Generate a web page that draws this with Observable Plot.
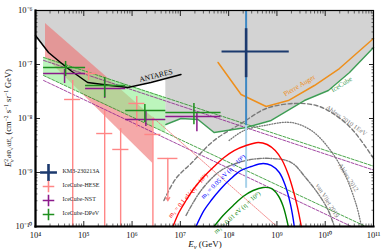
<!DOCTYPE html>
<html><head><meta charset="utf-8">
<script src="https://cdn.jsdelivr.net/npm/d3@7"></script>
<script src="https://cdn.jsdelivr.net/npm/@observablehq/plot@0.6"></script>
<style>body{margin:0;background:#fff} svg{display:block}</style>
</head><body><div id="chart"></div>
<script>
// ---------- data (E in GeV, F = E^2 dPhi/dE in GeV cm^-2 s^-1 sr^-1) ----------
const antaresE = [1e4, 1.86e4, 3.3e4, 5.33e4, 1.2e5, 3.61e5, 8.15e5, 2.45e6, 1.03e7];
const antaresF = [3.44e-7, 1.67e-7, 1.09e-7, 7.74e-8, 4.64e-8, 4.08e-8, 3.75e-8, 4.64e-8, 6.53e-8];
const grayStepE = [5.0e6];
const grayStepF = [5.5e-8];

const icecubeE = [5.0e6, 1.03e7, 2.32e7, 4.99e7, 2.3e8, 7.6e8, 3.69e9, 1.16e10, 3.18e10, 1e11];
const icecubeF = [7.74e-9, 1.0e-8, 9.6e-9, 5.5e-9, 6.8e-9, 9.2e-9, 2.15e-8, 3.3e-8, 7.1e-8, 2.06e-7];

const augerE = [6.04e7, 1.81e8, 6.0e8, 1.72e9, 5.96e9, 1.97e10, 1e11];
const augerF = [1.09e-7, 2.78e-8, 1.67e-8, 2.15e-8, 4.08e-8, 8.43e-8, 3.03e-7];

const heseBandE = [1.61e4, 2.7e6];
const heseBandLo = [1.35e-7, 1.47e-9];
const heseBandHi = [5.74e-7, 1.045e-8];
const heseExtE = [2.7e6, 1e9];
const heseExtF = [1.045e-8, 1e-10];

const dpevBandE = [1.47e4, 5e6];
const dpevBandLo = [6.25e-8, 5.43e-9];
const dpevBandHi = [1.35e-7, 2.43e-8];
const dpevUpE = [1.47e4, 1e11];
const dpevUpF = [1.35e-7, 1.31e-9];
const dpevLowE = [1.47e4, 6.9e10];
const dpevLowF = [6.25e-8, 1e-10];
const nstUpE = [1.47e4, 1e11];
const nstUpF = [1.19e-7, 1.11e-9];
const nstLowE = [1.47e4, 3.5e10];
const nstLowF = [5.06e-8, 1e-10];

const ahlers10E = [4.56e6, 8.09e6, 1.66e7, 4.99e7, 1.81e8, 6.0e8, 2.29e9, 6.55e9, 1.34e10, 3.49e10, 1e11];
const ahlers10F = [3.03e-10, 7.74e-10, 1.47e-9, 3.92e-9, 8.07e-9, 1.53e-8, 1.9e-8, 1.74e-8, 1.29e-8, 6.53e-9, 1.82e-9];
const ahlers12E = [1.02e8, 2.09e8, 5.44e8, 1.98e9, 5.15e9, 1.16e10, 2.5e10, 4.44e10, 5.64e10];
const ahlers12F = [3.92e-9, 6.0e-9, 7.41e-9, 8.43e-9, 6.0e-9, 2.9e-9, 9.57e-10, 2.45e-10, 1e-10];
const vliet19E = [1.31e7, 2.68e7, 6.97e7, 2.3e8, 7.62e8, 1.98e9, 4.06e9, 7.57e9, 1.16e10, 1.55e10];
const vliet19F = [1.6e-10, 4.64e-10, 1.09e-9, 1.67e-9, 1.82e-9, 1.53e-9, 7.74e-10, 3.75e-10, 1.98e-10, 1e-10];

const m01E = [7.02e6, 9.35e6, 1.31e7, 1.91e7, 3.09e7, 4.99e7, 8.04e7, 1.3e8, 2.3e8, 4.08e8, 6.28e8, 9.22e8, 1.29e9, 1.72e9, 2.18e9, 2.64e9, 3.2e9];
const m01F = [1e-10, 1.82e-10, 3.03e-10, 5.06e-10, 8.43e-10, 1.29e-9, 1.9e-9, 2.55e-9, 3.16e-9, 3.6e-9, 3.3e-9, 2.55e-9, 1.67e-9, 9.18e-10, 4.64e-10, 2.35e-10, 1e-10];
const m005E = [2.11e7, 3.09e7, 4.32e7, 6.97e7, 1.12e8, 1.81e8, 2.92e8, 5.19e8, 7.62e8, 1.12e9, 1.49e9, 1.89e9, 2.29e9];
const m005F = [1e-10, 1.98e-10, 3.03e-10, 5.06e-10, 7.74e-10, 1.09e-9, 1.29e-9, 1.47e-9, 1.35e-9, 1e-9, 5.74e-10, 2.67e-10, 1e-10];
const m001E = [4.99e7, 7.67e7, 1.24e8, 1.99e8, 3.22e8, 5.19e8, 7.62e8, 1.06e9, 1.35e9, 1.72e9];
const m001F = [1e-10, 1.6e-10, 2.45e-10, 3.6e-10, 4.64e-10, 5.27e-10, 5.06e-10, 3.75e-10, 2.35e-10, 1e-10];

// IceCube data points
const binLoE = [1.47e4, 1.09e5, 7.4e5, 5.0e6];
const binHiE = [1.09e5, 7.4e5, 5.0e6, 6.97e7];
const dpevE = [4.2e4, 2.71e5, 1.84e6, 1.91e7];
const dpevF = [8.8e-8, 4.1e-8, 1.41e-8, 1.29e-8];
const dpevLo = [6.0e-8, 2.45e-8, 8.4e-9, 7.7e-9];
const dpevHi = [1.14e-7, 5.7e-8, 1.82e-8, 1.9e-8];
const nstE = [4.0e4, 2.71e5, 1.93e6, 2.2e7];
const nstF = [6.8e-8, 3.6e-8, 9.6e-9, 1.09e-8];
const nstLo = [4.45e-8, 2.35e-8, 7.1e-9, 5.7e-9];
const nstHi = [8.1e-8, 5.3e-8, 1.41e-8, 1.24e-8];

const heseE = [5.9e4, 1.26e5, 2.71e5, 5.8e5, 1.25e6, 2.7e6];
const heseLoE = [4.0e4, 8.6e4, 1.85e5, 3.98e5, 8.6e5, 1.84e6];
const heseHiE = [8.6e4, 1.85e5, 3.98e5, 8.6e5, 1.84e6, 3.95e6];
const heseF = [2.25e-8, 6.8e-8, 5.27e-9, 2.67e-9, 1.9e-8, 5.06e-9];
const heseLo = [1e-10, 5.06e-8, 1e-10, 1e-10, 6.8e-9, 1e-10];
const heseHi = [5.06e-8, 8.4e-8, 1.41e-8, 6.5e-9, 2.55e-8, 1e-8];
const heseUlE = [5.5e6], heseUlLoE = [3.42e6], heseUlHiE = [8.9e6], heseUlF = [1.82e-9], heseUlTip = [3.0e-10];

// KM3-230213A
const km3E = [2.3e8], km3LoE = [7.3e7], km3HiE = [1.8e9], km3F = [1.74e-7];
const km3S1 = [5.7e-8, 4.6e-7], km3S2 = [7.4e-9, 1e-6], km3S3 = [5.1e-10, 7.4e-9];

const legendNames = ["KM3-230213A", "IceCube-HESE", "IceCube-NST", "IceCube-DPeV"];

// axis ticks
const xMajor = [1e4, 1e5, 1e6, 1e7, 1e8, 1e9, 1e10, 1e11];
const yMajor = [1e-10, 1e-9, 1e-8, 1e-7, 1e-6];
const minorMult = [2, 3, 4, 5, 6, 7, 8, 9];

// ---------- helpers ----------
const pts = (xs, ys) => xs.map((x, i) => ({x, y: ys[i]}));
const band = (xs, lo, hi) => xs.map((x, i) => ({x, lo: lo[i], hi: hi[i]}));
const sup = {"0":"⁰","1":"¹","2":"²","3":"³","4":"⁴","5":"⁵","6":"⁶","7":"⁷","8":"⁸","9":"⁹","-":"⁻"};
const fmt = d => "10" + String(Math.round(Math.log10(d))).split("").map(c => sup[c]).join("");
const xMinor = xMajor.slice(0, -1).flatMap(v => minorMult.map(m => v * m));
const yMinor = yMajor.slice(0, -1).flatMap(v => minorMult.map(m => v * m));

const grayEdge = [
  ...pts(antaresE, antaresF).filter(d => d.x < grayStepE[0]),
  ...pts(grayStepE, grayStepF),
  ...pts(icecubeE, icecubeF)
];

const errPts = (E, lo, hi, F, Flo, Fhi) => E.map((e, i) => ({x: e, x1: lo[i], x2: hi[i], y: F[i], y1: Flo[i], y2: Fhi[i]}));
const dpev = errPts(dpevE, binLoE, binHiE, dpevF, dpevLo, dpevHi);
const nst = errPts(nstE, binLoE, binHiE, nstF, nstLo, nstHi);
const hese = errPts(heseE, heseLoE, heseHiE, heseF, heseLo, heseHi);
const heseUL = heseUlE.map((e, i) => ({x: e, x1: heseUlLoE[i], x2: heseUlHiE[i], y: heseUlF[i], tip: heseUlTip[i]}));
const km3 = km3E.map((e, i) => ({x: e, x1: km3LoE[i], x2: km3HiE[i], y: km3F[i]}));

const C = {
  gray: "#d3d3d3", hese: "#ff8686", heseBand: "#ef7070", dpev: "#1f8f1f", dpevBand: "#90ee90",
  nst: "#8b1a8b", ice: "#3f9c55", auger: "#ee8f1c", km3: "#1c3a6e", km3b: "#3d88c4", km3c: "#a8d2ea",
  curve: "#7a7a7a"
};

const errMarks = (data, color, w) => [
  Plot.ruleY(data, {y: "y", x1: "x1", x2: "x2", stroke: color, strokeWidth: w}),
  Plot.ruleX(data, {x: "x", y1: "y1", y2: "y2", stroke: color, strokeWidth: w})
];

const annos = [
  {x: 3.11e6, y: 6.25e-8, t: "ANTARES", r: -14, c: "#000", s: 7.5},
  {x: 2.9e9, y: 4.08e-8, t: "Pierre Auger", r: -31, c: C.auger, s: 7},
  {x: 2.17e10, y: 4.27e-8, t: "IceCube", r: -32, c: C.ice, s: 7},
  {x: 2.76e10, y: 9.19e-9, t: "Ahlers 2010 1EeV", r: 35, c: C.curve, s: 6.5},
  {x: 3.02e10, y: 8.07e-10, t: "Ahlers 2012", r: 57, c: C.curve, s: 6.5},
  {x: 1.11e10, y: 3.03e-10, t: "van Vliet 2019", r: 58, c: C.curve, s: 6.5},
  {x: 1.44e7, y: 3.75e-10, t: "m₃ = 0.1 eV (η = 10⁵)", r: -49, c: "#ff0000", s: 6.5},
  {x: 7.67e7, y: 8.43e-10, t: "m₃ = 0.05 eV (η = 10⁶)", r: -45, c: "#0000ff", s: 6.5},
  {x: 1.5e8, y: 1.82e-10, t: "m₃ = 0.01 eV (η = 10⁶)", r: -42, c: "#008000", s: 6.5}
];

const legendColors = [C.km3, C.hese, C.nst, C.dpev];
const legendMarks = legendNames.flatMap((name, i) => [
  Plot.dot([name], {frameAnchor: "bottom-left", dx: 13, dy: -54 + 14 * i, symbol: "plus",
    r: i === 0 ? 5.5 : 3.8, stroke: legendColors[i], strokeWidth: i === 0 ? 2.6 : 1.6}),
  Plot.text([name], {frameAnchor: "bottom-left", dx: 27, dy: -54 + 14 * i, text: d => d,
    textAnchor: "start", fontSize: 6, fill: "#222"})
]);

const tickAxes = [
  ...["bottom", "top"].flatMap(a => [
    Plot.axisX(xMajor, {anchor: a, tickSize: -5, tickFormat: () => "", label: null, strokeWidth: 0.9}),
    Plot.axisX(xMinor, {anchor: a, tickSize: -2.5, tickFormat: () => "", label: null, strokeWidth: 0.6})
  ]),
  ...["left", "right"].flatMap(a => [
    Plot.axisY(yMajor, {anchor: a, tickSize: -5, tickFormat: () => "", label: null, strokeWidth: 0.9}),
    Plot.axisY(yMinor, {anchor: a, tickSize: -2.5, tickFormat: () => "", label: null, strokeWidth: 0.6})
  ])
];

const chart = Plot.plot({
  width: 389, height: 252,
  marginLeft: 35, marginRight: 16, marginTop: 10, marginBottom: 26,
  style: {fontFamily: "'Liberation Serif', serif", background: "#fff", color: "#111"},
  x: {type: "log", domain: [1e4, 1e11]},
  y: {type: "log", domain: [1e-10, 1e-6]},
  marks: [
    Plot.areaY(grayEdge, {x: "x", y1: () => 1e-6, y2: "y", fill: C.gray}),
    Plot.areaY(band(heseBandE, heseBandLo, heseBandHi), {x: "x", y1: "lo", y2: "hi", fill: C.heseBand, fillOpacity: 0.6}),
    Plot.areaY(band(dpevBandE, dpevBandLo, dpevBandHi), {x: "x", y1: "lo", y2: "hi", fill: C.dpevBand, fillOpacity: 0.6}),
    Plot.line(pts(dpevUpE, dpevUpF), {x: "x", y: "y", stroke: C.dpev, strokeWidth: 0.8, strokeDasharray: "3,1.5"}),
    Plot.line(pts(dpevLowE, dpevLowF), {x: "x", y: "y", stroke: C.dpev, strokeWidth: 0.8, strokeDasharray: "3,1.5"}),
    Plot.line(pts(nstUpE, nstUpF), {x: "x", y: "y", stroke: C.nst, strokeWidth: 0.8, strokeDasharray: "3,1.5"}),
    Plot.line(pts(nstLowE, nstLowF), {x: "x", y: "y", stroke: C.nst, strokeWidth: 0.8, strokeDasharray: "3,1.5"}),
    Plot.line(pts(heseExtE, heseExtF), {x: "x", y: "y", stroke: "#f07070", strokeWidth: 0.8, strokeDasharray: "1.5,1.2"}),
    Plot.line(pts(ahlers10E, ahlers10F), {x: "x", y: "y", stroke: C.curve, strokeWidth: 1.4, strokeDasharray: "4,2.5", curve: "catmull-rom"}),
    Plot.line(pts(ahlers12E, ahlers12F), {x: "x", y: "y", stroke: C.curve, strokeWidth: 1.3, strokeDasharray: "1,1.6", curve: "catmull-rom"}),
    Plot.line(pts(vliet19E, vliet19F), {x: "x", y: "y", stroke: C.curve, strokeWidth: 1.4, strokeDasharray: "4,1.5,1,1.5", curve: "catmull-rom"}),
    Plot.line(pts(antaresE, antaresF), {x: "x", y: "y", stroke: "#000", strokeWidth: 1.5}),
    Plot.line(pts(icecubeE, icecubeF), {x: "x", y: "y", stroke: C.ice, strokeWidth: 1.5}),
    Plot.line(pts(augerE, augerF), {x: "x", y: "y", stroke: C.auger, strokeWidth: 1.5}),
    Plot.ruleX(km3, {x: "x", y1: km3S3[0], y2: km3S3[1], stroke: C.km3c, strokeWidth: 2}),
    Plot.ruleX(km3, {x: "x", y1: km3S2[0], y2: km3S2[1], stroke: C.km3b, strokeWidth: 2}),
    Plot.line(pts(m01E, m01F), {x: "x", y: "y", stroke: "#ff0000", strokeWidth: 1.4, curve: "catmull-rom"}),
    Plot.line(pts(m005E, m005F), {x: "x", y: "y", stroke: "#0000ff", strokeWidth: 1.4, curve: "catmull-rom"}),
    Plot.line(pts(m001E, m001F), {x: "x", y: "y", stroke: "#008000", strokeWidth: 1.4, curve: "catmull-rom"}),
    ...errMarks(hese, C.hese, 1.4),
    Plot.ruleY(heseUL, {y: "y", x1: "x1", x2: "x2", stroke: C.hese, strokeWidth: 1.4}),
    Plot.arrow(heseUL, {x1: "x", x2: "x", y1: "y", y2: "tip", stroke: C.hese, strokeWidth: 1.4, headLength: 4}),
    ...errMarks(nst, C.nst, 1.5),
    ...errMarks(dpev, C.dpev, 1.5),
    Plot.ruleY(km3, {y: "y", x1: "x1", x2: "x2", stroke: C.km3, strokeWidth: 2}),
    Plot.ruleX(km3, {x: "x", y1: km3S1[0], y2: km3S1[1], stroke: C.km3, strokeWidth: 2.6}),
    Plot.text(annos, {x: "x", y: "y", text: "t", rotate: "r", fill: "c", fontSize: "s"}),
    ...legendMarks,
    ...tickAxes,
    Plot.axisX(xMajor, {anchor: "bottom", tickSize: 0, tickPadding: 5, tickFormat: fmt, label: null, fontSize: 8.5}),
    Plot.axisY(yMajor, {anchor: "left", tickSize: 0, tickPadding: 3, tickFormat: fmt, label: null, fontSize: 8.5}),
    Plot.frame({stroke: "#000", strokeWidth: 1.2}),
    Plot.frame({anchor: "left", stroke: "#000", strokeWidth: 2.2}),
    Plot.frame({anchor: "bottom", stroke: "#000", strokeWidth: 2.2})
  ]
});

document.getElementById("chart").appendChild(chart);

// axis titles
const svg = d3.select(chart.tagName.toLowerCase() === "svg" ? chart : chart.querySelector("svg"));
const xt = svg.append("text").attr("x", 205).attr("y", 247).attr("text-anchor", "middle")
  .attr("font-size", 9).attr("font-family", "'Liberation Serif', serif").attr("fill", "#111");
xt.append("tspan").attr("font-style", "italic").text("E");
xt.append("tspan").attr("font-size", 6.5).attr("dy", 2).attr("font-style", "italic").text("ν");
xt.append("tspan").attr("dy", -2).text(" (GeV)");

const yt = svg.append("text").attr("transform", "translate(11,118) rotate(-90)").attr("text-anchor", "middle")
  .attr("font-size", 8.5).attr("font-family", "'Liberation Serif', serif").attr("fill", "#111");
yt.append("tspan").attr("font-style", "italic").text("E");
yt.append("tspan").attr("font-size", 5.5).attr("dy", -3.5).text("2");
yt.append("tspan").attr("font-size", 5.5).attr("dx", -3).attr("dy", 6).attr("font-style", "italic").text("ν");
yt.append("tspan").attr("font-size", 6.5).attr("dy", -2.5).attr("font-style", "italic").text(" dΦ");
yt.append("tspan").attr("font-size", 4.5).attr("dy", 1.5).attr("font-style", "italic").text("ν");
yt.append("tspan").attr("font-size", 6.5).attr("dy", -1.5).attr("font-style", "italic").text("/dE");
yt.append("tspan").attr("font-size", 4.5).attr("dy", 1.5).attr("font-style", "italic").text("ν");
yt.append("tspan").attr("dy", -1.5).text(" (cm");
yt.append("tspan").attr("font-size", 5.5).attr("dy", -3.5).text("−2");
yt.append("tspan").attr("dy", 3.5).text(" s");
yt.append("tspan").attr("font-size", 5.5).attr("dy", -3.5).text("−1");
yt.append("tspan").attr("dy", 3.5).text(" sr");
yt.append("tspan").attr("font-size", 5.5).attr("dy", -3.5).text("−1");
yt.append("tspan").attr("dy", 3.5).text(" GeV)");
</script></body></html>
